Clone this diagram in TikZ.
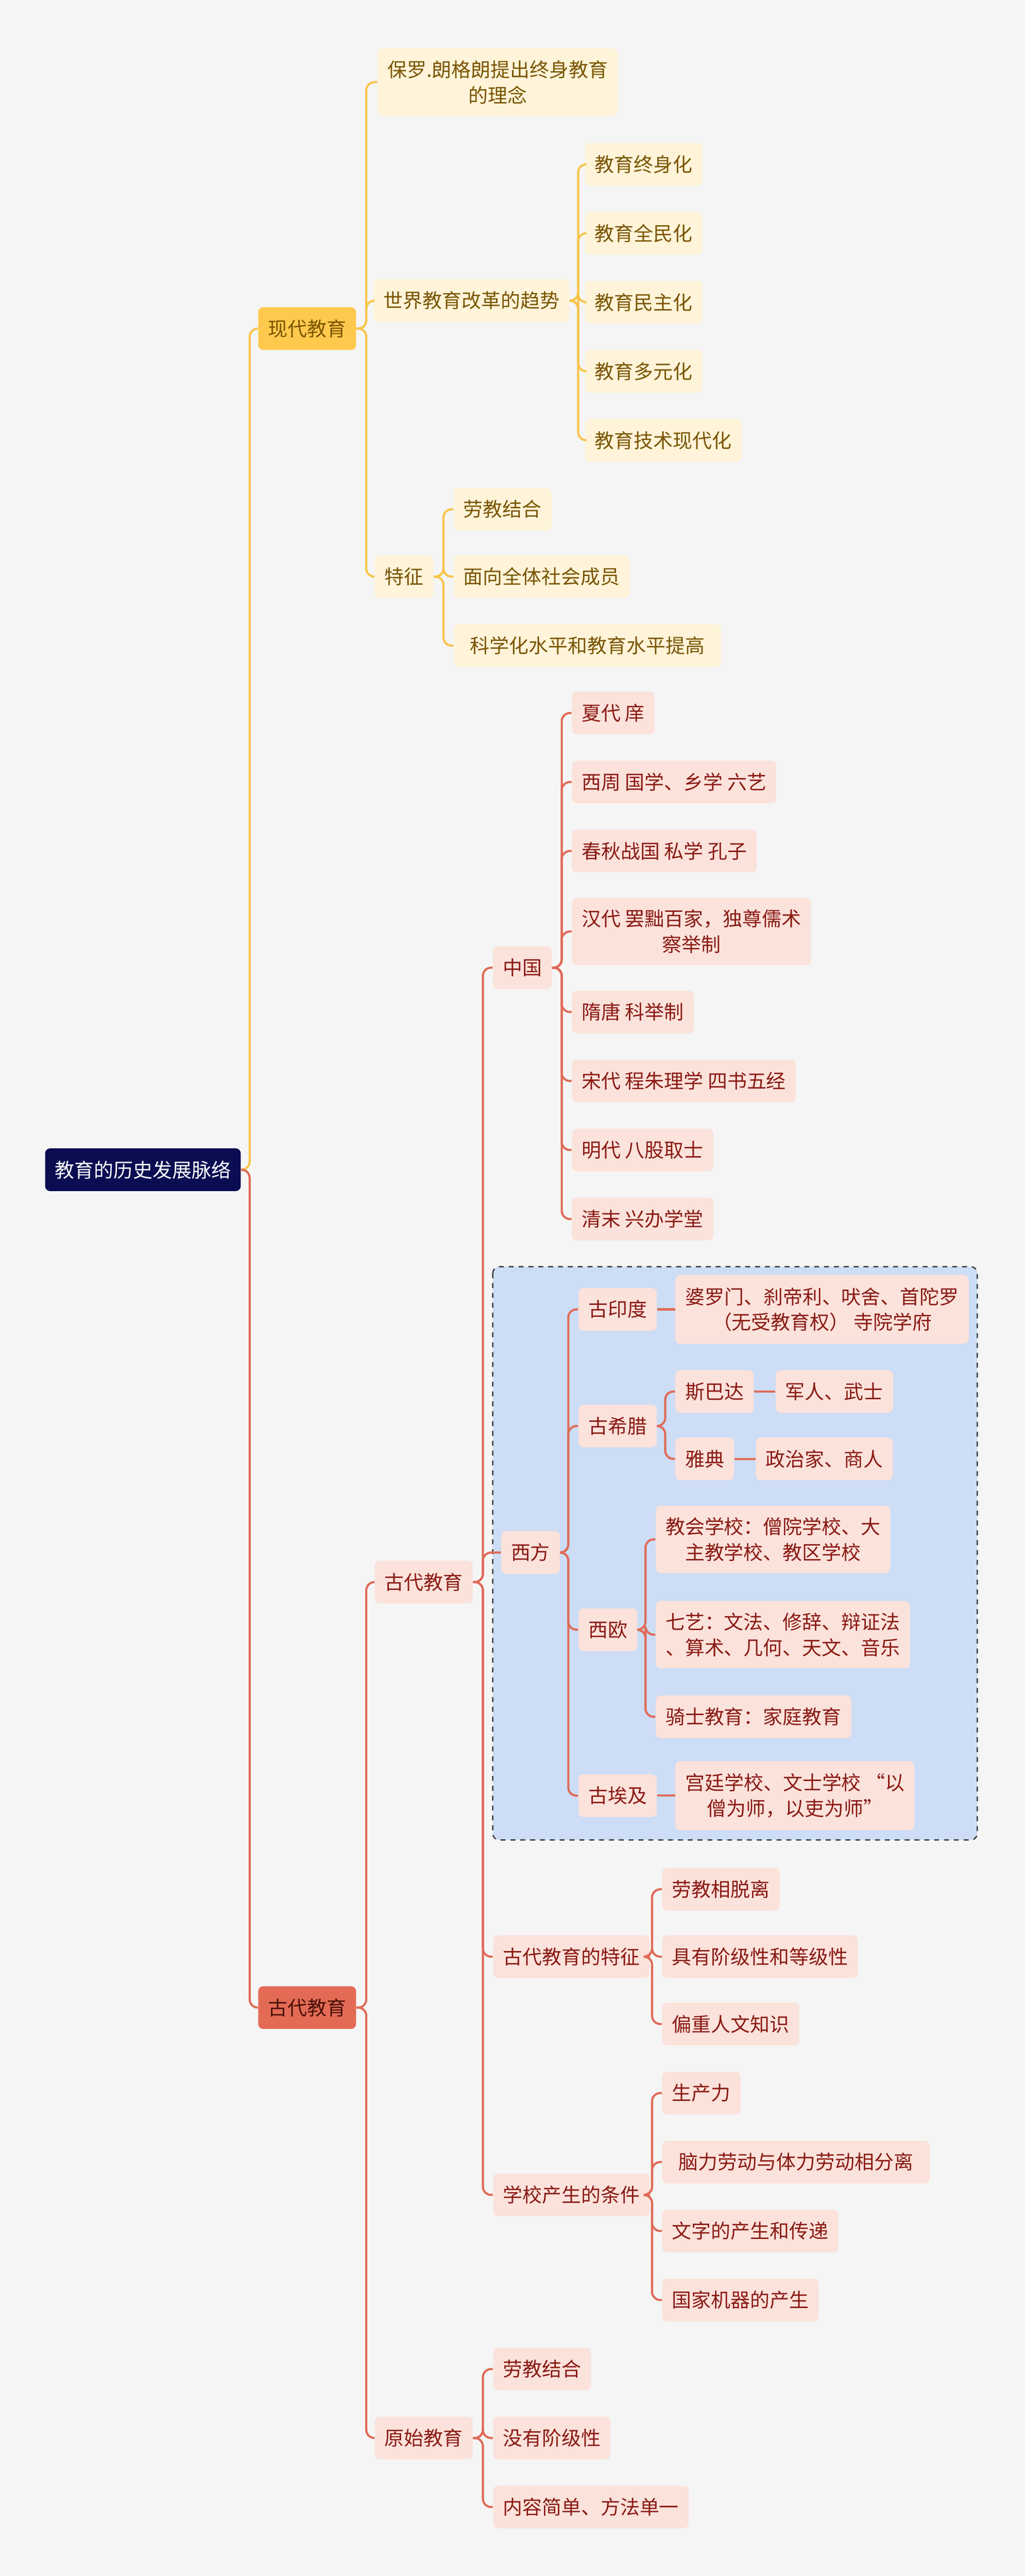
\documentclass[tikz,border=0pt]{standalone}
\usepackage{fontspec}
\setmainfont{Noto Sans CJK SC}
\definecolor{rootc}{HTML}{0B0D52}
\definecolor{yel1}{HTML}{FFC94D}
\definecolor{yel2}{HTML}{FFF4D9}
\definecolor{ytext}{HTML}{7A5500}
\definecolor{ylc}{HTML}{F7C54A}
\definecolor{red1}{HTML}{E36B55}
\definecolor{red2}{HTML}{FBE2DB}
\definecolor{rtext}{HTML}{8A1A14}
\definecolor{rtext1}{HTML}{4A1008}
\definecolor{rlc}{HTML}{E06B58}
\definecolor{bgc}{HTML}{F5F5F5}
\definecolor{grpfill}{HTML}{CCDDF5}
\definecolor{grpline}{HTML}{3C3C3C}
\newcommand\conn[4]{\draw[#1] (#2.east) -- (#2.east -| #3) |- (#4.west);}
\begin{document}
\begin{tikzpicture}[x=1pt,y=-1pt,font=\fontsize{11.9}{15.5}\selectfont,
  base/.style={rounded corners=3pt,inner xsep=6pt,inner ysep=0pt,minimum height=26pt,align=center},
  root/.style={base,fill=rootc,text=white},
  ya/.style={base,fill=yel1,text=ytext},
  yb/.style={base,fill=yel2,text=ytext},
  ra/.style={base,fill=red1,text=rtext1},
  rb/.style={base,fill=red2,text=rtext},
  lny/.style={draw=ylc,line width=1.3pt,rounded corners=5pt},
  lnr/.style={draw=rlc,line width=1.3pt,rounded corners=5pt}]
\fill[bgc] (0,0) rectangle (624,1568);
\useasboundingbox (0,0) rectangle (624,1568);
% dashed group
\draw[dashed,draw=grpline,fill=grpfill,rounded corners=4pt,line width=0.8pt] (300,771) rectangle (595,1120);
% trunks
\coordinate (t0) at (152,0);
\coordinate (t1) at (223,0);
\coordinate (t2) at (352,0);
\coordinate (t3) at (270,0);
\coordinate (t4) at (294,0);
\coordinate (t5) at (342,0);
\coordinate (t6) at (346,0);
\coordinate (t7) at (405,0);
\coordinate (t10) at (393,0);
\coordinate (t11) at (397,0);
% nodes
\node[root] (root) at (87,712) {教育的历史发展脉络};
\node[ya] (xd) at (187,200) {现代教育};
\node[ra] (gd) at (187,1222) {古代教育};
\node[yb,minimum height=41pt] (bl) at (303,50) {保罗.朗格朗提出终身教育\\的理念};
\node[yb] (qs) at (287,183) {世界教育改革的趋势};
\node[yb] (tz) at (246,351) {特征};
\node[yb,anchor=west] (q1) at (356,100) {教育终身化};
\node[yb,anchor=west] (q2) at (356,142) {教育全民化};
\node[yb,anchor=west] (q3) at (356,184) {教育民主化};
\node[yb,anchor=west] (q4) at (356,226) {教育多元化};
\node[yb,anchor=west] (q5) at (356,268) {教育技术现代化};
\node[yb,anchor=west] (z1) at (276,310) {劳教结合};
\node[yb,anchor=west] (z2) at (276,351) {面向全体社会成员};
\node[yb,anchor=west,inner xsep=10pt] (z3) at (276,393) {科学化水平和教育水平提高};
\node[rb] (gd2) at (258,963) {古代教育};
\node[rb] (ys) at (258,1484) {原始教育};
\node[rb] (zg) at (318,589) {中国};
\node[rb] (xf) at (323,945) {西方};
\node[rb,anchor=west] (tzg) at (300,1191) {古代教育的特征};
\node[rb,anchor=west] (tj) at (300,1336) {学校产生的条件};
\node[rb,anchor=west] (c1) at (348,434) {夏代 庠};
\node[rb,anchor=west] (c2) at (348,476) {西周 国学、乡学 六艺};
\node[rb,anchor=west] (c3) at (348,518) {春秋战国 私学 孔子};
\node[rb,anchor=west,minimum height=41pt] (c4) at (348,567) {汉代 罢黜百家，独尊儒术\\察举制};
\node[rb,anchor=west] (c5) at (348,616) {隋唐 科举制};
\node[rb,anchor=west] (c6) at (348,658) {宋代 程朱理学 四书五经};
\node[rb,anchor=west] (c7) at (348,700) {明代 八股取士};
\node[rb,anchor=west] (c8) at (348,742) {清末 兴办学堂};
\node[rb,anchor=west] (yd) at (352,797) {古印度};
\node[rb,anchor=west] (xl) at (352,868) {古希腊};
\node[rb,anchor=west] (xo) at (352,992) {西欧};
\node[rb,anchor=west] (aj) at (352,1093) {古埃及};
\node[rb,anchor=west,minimum height=42pt] (yd1) at (411,797) {婆罗门、刹帝利、吠舍、首陀罗\\（无受教育权） 寺院学府};
\node[rb,anchor=west] (sb) at (411,847) {斯巴达};
\node[rb,anchor=west] (yad) at (411,888) {雅典};
\node[rb,anchor=west] (sb1) at (472,847) {军人、武士};
\node[rb,anchor=west] (yad1) at (460,888) {政治家、商人};
\node[rb,anchor=west,minimum height=41pt] (o1) at (399,937) {教会学校：僧院学校、大\\主教学校、教区学校};
\node[rb,anchor=west,minimum height=41pt] (o2) at (399,995) {七艺：文法、修辞、辩证法\\、算术、几何、天文、音乐};
\node[rb,anchor=west] (o3) at (399,1045) {骑士教育：家庭教育};
\node[rb,anchor=west,minimum height=42pt] (aj1) at (411,1093) {宫廷学校、文士学校 “以\\僧为师，以吏为师”};
\node[rb,anchor=west] (g1) at (403,1150) {劳教相脱离};
\node[rb,anchor=west] (g2) at (403,1191) {具有阶级性和等级性};
\node[rb,anchor=west] (g3) at (403,1232) {偏重人文知识};
\node[rb,anchor=west] (s1) at (403,1274) {生产力};
\node[rb,anchor=west,inner xsep=10pt] (s2) at (403,1316) {脑力劳动与体力劳动相分离};
\node[rb,anchor=west] (s3) at (403,1358) {文字的产生和传递};
\node[rb,anchor=west] (s4) at (403,1400) {国家机器的产生};
\node[rb,anchor=west] (y1) at (300,1442) {劳教结合};
\node[rb,anchor=west] (y2) at (300,1484) {没有阶级性};
\node[rb,anchor=west] (y3) at (300,1526) {内容简单、方法单一};
% connectors
\conn{lny}{root}{t0}{xd}
\conn{lnr}{root}{t0}{gd}
\foreach \c in {bl,qs,tz} {\conn{lny}{xd}{t1}{\c}}
\foreach \c in {q1,q2,q3,q4,q5} {\conn{lny}{qs}{t2}{\c}}
\foreach \c in {z1,z2,z3} {\conn{lny}{tz}{t3}{\c}}
\foreach \c in {gd2,ys} {\conn{lnr}{gd}{t1}{\c}}
\foreach \c in {zg,xf,tzg,tj} {\conn{lnr}{gd2}{t4}{\c}}
\foreach \c in {c1,c2,c3,c4,c5,c6,c7,c8} {\conn{lnr}{zg}{t5}{\c}}
\foreach \c in {yd,xl,xo,aj} {\conn{lnr}{xf}{t6}{\c}}
\draw[lnr] (yd.east) -- (yd1.west);
\foreach \c in {sb,yad} {\conn{lnr}{xl}{t7}{\c}}
\draw[lnr] (sb.east) -- (sb1.west);
\draw[lnr] (yad.east) -- (yad1.west);
\foreach \c in {o1,o2,o3} {\conn{lnr}{xo}{t10}{\c}}
\draw[lnr] (aj.east) -- (aj1.west);
\foreach \c in {g1,g2,g3} {\conn{lnr}{tzg}{t11}{\c}}
\foreach \c in {s1,s2,s3,s4} {\conn{lnr}{tj}{t11}{\c}}
\foreach \c in {y1,y2,y3} {\conn{lnr}{ys}{t4}{\c}}
\end{tikzpicture}
\end{document}
